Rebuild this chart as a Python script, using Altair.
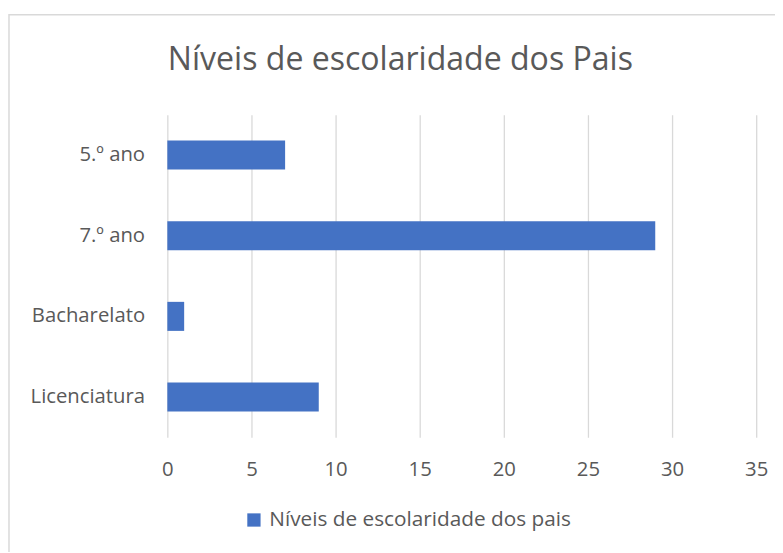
import altair as alt
import pandas as pd

categories = ["5.º ano", "7.º ano", "Bacharelato", "Licenciatura"]
values = [7, 29, 1, 9]
series_name = "Níveis de escolaridade dos pais"
title_text = "Níveis de escolaridade dos Pais"
x_ticks = [0, 5, 10, 15, 20, 25, 30, 35]

df = pd.DataFrame({"categoria": categories, "valor": values, "serie": [series_name] * len(categories)})

FONT = "Open Sans"
GREY = "#595959"
GRID = "#d9d9d9"

bars = alt.Chart(df).mark_bar(color="#4472c4").encode(
    y=alt.Y(
        "categoria:N",
        sort=categories,
        scale=alt.Scale(paddingInner=0.64, paddingOuter=0.32),
        axis=alt.Axis(
            title=None, domain=False, ticks=False, grid=False,
            labelFont=FONT, labelFontSize=20.5, labelColor=GREY, labelPadding=23,
            labelExpr="indexof(datum.label, 'ano') > 0 ? datum.label + '\u2004' : datum.label",
        ),
    ),
    x=alt.X(
        "valor:Q",
        scale=alt.Scale(domain=[0, 35], nice=False),
        axis=alt.Axis(
            title=None, domain=False, ticks=False, values=x_ticks,
            grid=True, gridColor=GRID, gridWidth=1.3, labelFlush=False,
            labelFont=FONT, labelFontSize=20.5, labelColor=GREY, labelPadding=23,
        ),
    ),
    color=alt.Color(
        "serie:N",
        scale=alt.Scale(range=["#4472c4"]),
        legend=alt.Legend(
            title=None, orient="none", legendX=77, legendY=399, padding=0,
            symbolType="square", symbolSize=180, symbolStrokeWidth=0,
            labelFont=FONT, labelFontSize=21, labelColor=GREY, labelOffset=5,
            labelLimit=600,
        ),
    ),
)

border = alt.Chart(alt.Data(values=[{"b": 1}])).mark_rect(
    fill=None, stroke=GRID, strokeWidth=1.5
).encode(
    x=alt.value(-160), x2=alt.value(700), y=alt.value(-101), y2=alt.value(500)
)

chart = alt.layer(border, bars).properties(
    width=595,
    height=326,
    padding={"left": 161, "top": 105, "right": 19, "bottom": 113},
    autosize=alt.AutoSizeParams(type="none"),
    title=alt.TitleParams(
        text=title_text, font=FONT, fontSize=32.4, fontWeight="normal", color=GREY,
        anchor="middle", frame="group", dx=-62, offset=-89, baseline="alphabetic",
    ),
).configure(background="white").configure_view(stroke=None)

chart.save("out.html", embed_options={"renderer": "svg", "actions": False})
